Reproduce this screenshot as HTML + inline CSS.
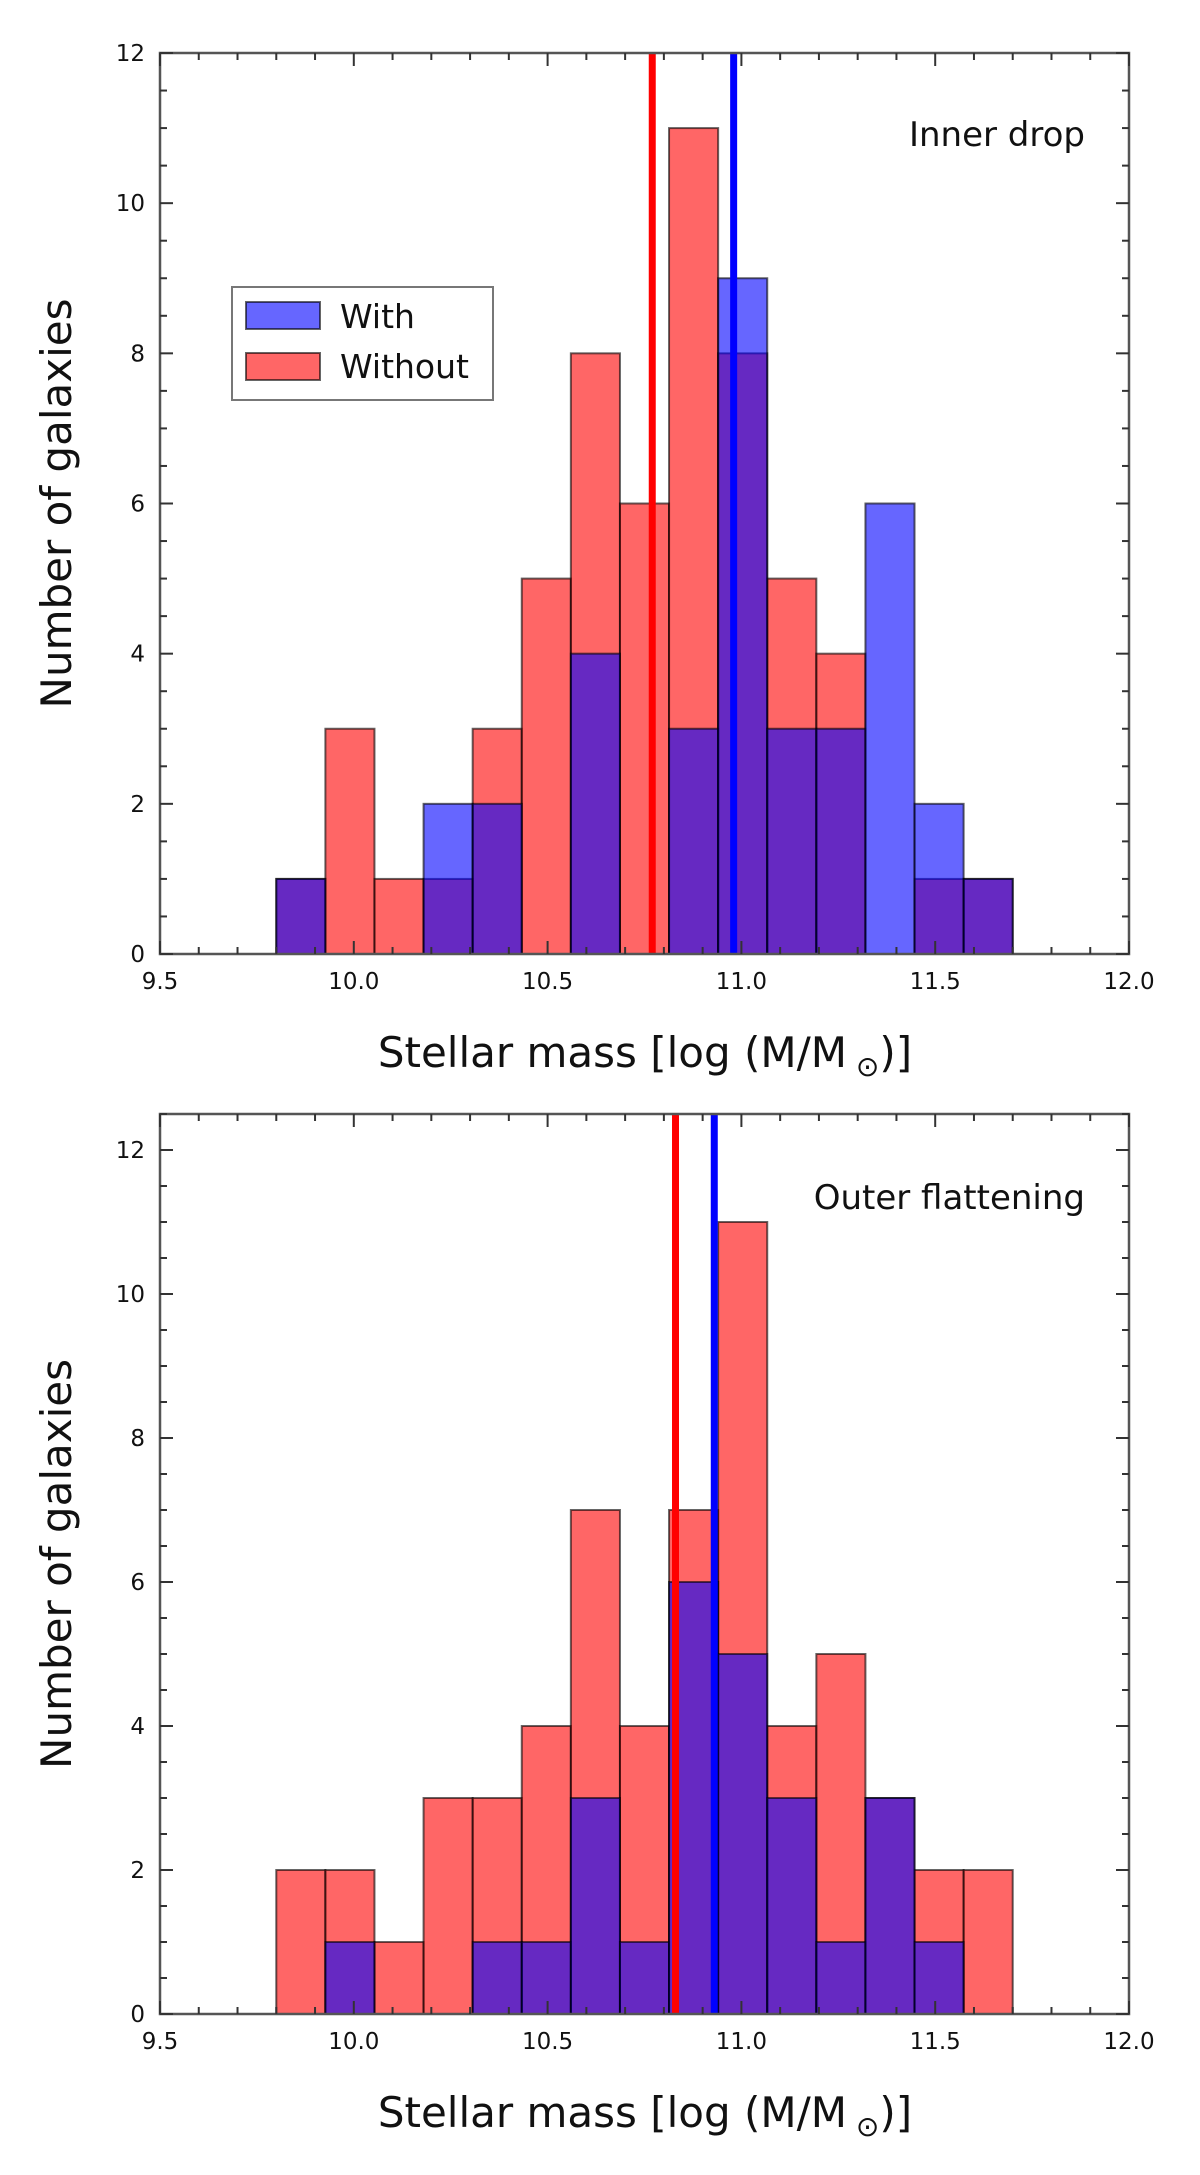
<!DOCTYPE html>
<html><head><meta charset="utf-8"><style>
html,body{margin:0;padding:0;background:#fff;}
svg{display:block;font-family:"DejaVu Sans","Liberation Sans",sans-serif;}
</style></head><body>
<svg id="fig" width="1200" height="2175" viewBox="0 0 1200 2175" xmlns="http://www.w3.org/2000/svg"></svg>
<script>
const binStart = 9.8;
const binWidth = 1.9 / 15;
const topWith = [1,0,0,2,2,0,4,0,3,9,3,3,6,2,1];
const topWithout = [1,3,1,1,3,5,8,6,11,8,5,4,0,1,1];
const topMeans = [10.77, 10.98];
const botWith = [0,1,0,0,1,1,3,1,6,5,3,1,3,1,0];
const botWithout = [2,2,1,3,3,4,7,4,7,11,4,5,3,2,2];
const botMeans = [10.83, 10.93];
const xTicks = [9.5, 10.0, 10.5, 11.0, 11.5, 12.0];
const xTickLabels = ["9.5","10.0","10.5","11.0","11.5","12.0"];
const yTicks = [0,2,4,6,8,10,12];

const NS = "http://www.w3.org/2000/svg";
const svg = document.getElementById('fig');
function mk(tag, attrs, parent, text) {
  const e = document.createElementNS(NS, tag);
  for (const k in attrs) e.setAttribute(k, attrs[k]);
  if (text !== undefined) e.textContent = text;
  (parent || svg).appendChild(e);
  return e;
}

function panel(cfg) {
  const g = mk('g', {});
  
  
  const L = 160, R = 1129, T = cfg.top, B = cfg.bottom;
  const sx = v => L + (v - 9.5) / 2.5 * (R - L);
  const sy = v => B - v / cfg.ymax * (B - T);
  cfg.without.forEach((v, i) => {
    if (v <= 0) return;
    const x0 = sx(binStart + i * binWidth), x1 = sx(binStart + (i + 1) * binWidth);
    const r = mk('rect', {x: x0, y: sy(v), width: x1 - x0, height: sy(0) - sy(v), fill: '#ff0000', 'fill-opacity': 0.6, stroke: '#000', 'stroke-opacity': 0.6, 'stroke-width': 2}, g);
    
    
  });
  cfg.with.forEach((v, i) => {
    if (v <= 0) return;
    const x0 = sx(binStart + i * binWidth), x1 = sx(binStart + (i + 1) * binWidth);
    const r = mk('rect', {x: x0, y: sy(v), width: x1 - x0, height: sy(0) - sy(v), fill: '#0000ff', 'fill-opacity': 0.6, stroke: '#000', 'stroke-opacity': 0.6, 'stroke-width': 2}, g);
    
    
  });
  const lr = mk('line', {x1: sx(cfg.means[0]), x2: sx(cfg.means[0]), y1: T, y2: B, stroke: '#ff0000', 'stroke-width': 7}, g);
  
  
  const lb = mk('line', {x1: sx(cfg.means[1]), x2: sx(cfg.means[1]), y1: T, y2: B, stroke: '#0000ff', 'stroke-width': 7}, g);
  
  
  const fr = mk('rect', {x: L, y: T, width: R - L, height: B - T, fill: 'none', stroke: '#555', 'stroke-width': 2.5}, g);
  
  
  for (let k = 0; k <= 25; k++) {
    const v = 9.5 + k * 0.1, x = sx(v);
    const len = (k % 5 === 0) ? 13 : 7;
    mk('line', {x1: x, x2: x, y1: B, y2: B - len, stroke: '#333', 'stroke-width': 2}, g);
    mk('line', {x1: x, x2: x, y1: T, y2: T + len, stroke: '#333', 'stroke-width': 2}, g);
  }
  xTicks.forEach((v, i) => {
    const t = mk('text', {x: sx(v), y: B + 35, 'text-anchor': 'middle', 'font-size': 23, fill: '#111'}, g, xTickLabels[i]);
    
    
  });
  for (let v = 0; v <= cfg.ymax + 1e-9; v += 0.5) {
    const y = sy(v);
    const len = (Math.abs(v % 2) < 1e-9) ? 13 : 7;
    mk('line', {x1: L, x2: L + len, y1: y, y2: y, stroke: '#333', 'stroke-width': 2}, g);
    mk('line', {x1: R, x2: R - len, y1: y, y2: y, stroke: '#333', 'stroke-width': 2}, g);
  }
  yTicks.forEach(v => {
    const t = mk('text', {x: 145, y: sy(v) + 8, 'text-anchor': 'end', 'font-size': 23, fill: '#111'}, g, String(v));
    
    
  });
  const xt = mk('text', {x: 645, y: cfg.xlabelY, 'text-anchor': 'middle', 'font-size': 42, fill: '#111'}, g);
  
  
  xt.appendChild(document.createTextNode('Stellar mass [log (M/M'));
  mk('tspan', {'font-size': 28, dy: 9}, xt, ' \u2299');
  mk('tspan', {dy: -9}, xt, ')]');
  const yt = mk('text', {x: 0, y: 0, transform: 'translate(71,' + ((T + B) / 2) + ') rotate(-90)', 'text-anchor': 'middle', 'font-size': 42, fill: '#111'}, g, 'Number of galaxies');
  
  
  const an = mk('text', {x: 1085, y: cfg.annotY, 'text-anchor': 'end', 'font-size': 34, fill: '#111'}, g, cfg.annot);
  
  
}

panel({name: 'inner-drop-panel', top: 53, bottom: 954, ymax: 12, with: topWith, without: topWithout, means: topMeans, xlabelY: 1067, annot: 'Inner drop', annotY: 146});
panel({name: 'outer-flattening-panel', top: 1114, bottom: 2014, ymax: 12.5, with: botWith, without: botWithout, means: botMeans, xlabelY: 2127, annot: 'Outer flattening', annotY: 1209});

const lg = mk('g', {});


mk('rect', {x: 232, y: 287, width: 261, height: 113, fill: '#fff', stroke: '#777', 'stroke-width': 2}, lg);
const e1 = mk('rect', {x: 246, y: 302, width: 74, height: 27, fill: '#0000ff', 'fill-opacity': 0.6, stroke: '#000', 'stroke-opacity': 0.6, 'stroke-width': 2}, lg);


const e2 = mk('rect', {x: 246, y: 353, width: 74, height: 27, fill: '#ff0000', 'fill-opacity': 0.6, stroke: '#000', 'stroke-opacity': 0.6, 'stroke-width': 2}, lg);


const t1 = mk('text', {x: 340, y: 328, 'font-size': 33, fill: '#111'}, lg, 'With');


const t2 = mk('text', {x: 340, y: 378, 'font-size': 33, fill: '#111'}, lg, 'Without');


</script>
</body></html>
